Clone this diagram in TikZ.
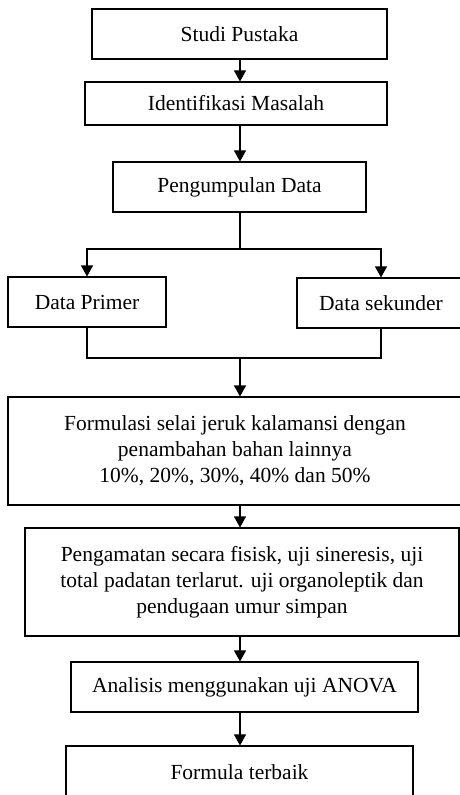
\documentclass[tikz,border=0pt]{standalone}
\usepackage{fontspec}
\setmainfont{Liberation Serif}
\usetikzlibrary{arrows.meta}
\begin{document}
\begin{tikzpicture}[x=1pt,y=-1pt,line width=1.1pt,
	kotak/.style={draw,rectangle,align=center,inner sep=0pt,font=\fontsize{21.5}{26}\selectfont},
	panah/.style={-{Triangle[length=11pt,width=12pt]}}]
	\useasboundingbox (0,0) rectangle (460,795);
	\clip (0,0) rectangle (460,795);
	\coordinate (poros) at (240,0);
	\node[kotak,minimum width=295pt,minimum height=50pt] (studi) at (239.5,34) {Studi Pustaka};
	\node[kotak,minimum width=302pt,minimum height=43pt] (identifikasi) at (236,103.5) {Identifikasi Masalah};
	\node[kotak,minimum width=253pt,minimum height=50pt] (pengumpulan) at (239.5,187) {Pengumpulan Data};
	\node[kotak,minimum width=158pt,minimum height=50pt] (primer) at (87,302) {Data Primer};
	\node[kotak,minimum width=168pt,minimum height=50pt] (sekunder) at (381,303) {Data sekunder};
	\node[kotak,minimum width=454pt,minimum height=108pt] (formulasi) at (235,451) {Formulasi selai jeruk kalamansi dengan\\penambahan bahan lainnya\\10\%, 20\%, 30\%, 40\% dan 50\%};
	\node[kotak,minimum width=434pt,minimum height=108pt] (pengamatan) at (242,582) {Pengamatan secara fisisk, uji sineresis, uji\\total padatan terlarut. uji organoleptik dan\\pendugaan umur simpan};
	\node[kotak,minimum width=347pt,minimum height=50pt] (anova) at (244.5,687) {Analisis menggunakan uji ANOVA};
	\node[kotak,minimum width=347pt,minimum height=52pt] (terbaik) at (239.5,772) {Formula terbaik};
	\coordinate (cabang) at (240,249);
	\coordinate (gabung) at (240,358);
	\draw[panah] (studi.south -| poros) -- (identifikasi.north -| poros);
	\draw[panah] (identifikasi.south -| poros) -- (pengumpulan.north -| poros);
	\draw (pengumpulan.south -| poros) -- (cabang);
	\draw[panah] (cabang) -| (primer.north);
	\draw[panah] (cabang) -| (sekunder.north);
	\draw (primer.south) |- (gabung) -| (sekunder.south);
	\draw[panah] (gabung) -- (formulasi.north -| poros);
	\draw[panah] (formulasi.south -| poros) -- (pengamatan.north -| poros);
	\draw[panah] (pengamatan.south -| poros) -- (anova.north -| poros);
	\draw[panah] (anova.south -| poros) -- (terbaik.north -| poros);
\end{tikzpicture}
\end{document}
